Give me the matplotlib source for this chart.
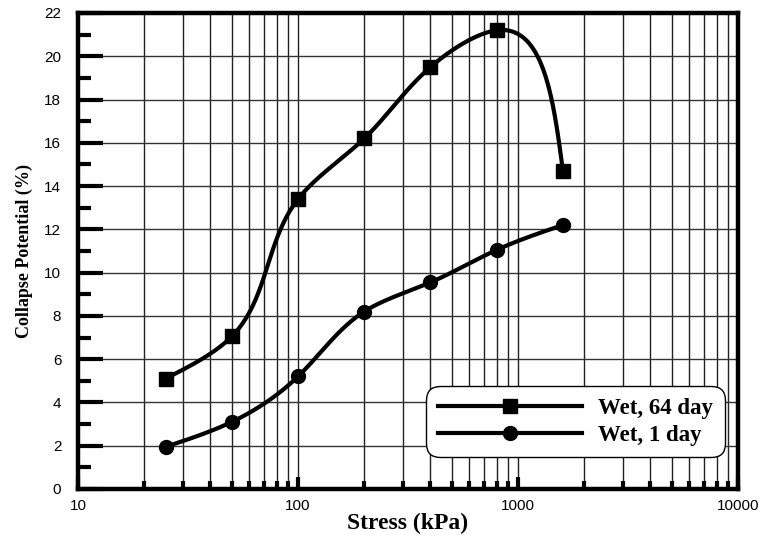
import numpy as np
import matplotlib
matplotlib.use('Agg')
import matplotlib.pyplot as plt
from matplotlib.ticker import FixedLocator, NullFormatter, FixedFormatter
from matplotlib.lines import Line2D

# ---- data ----
stress = [25, 50, 100, 200, 400, 800, 1600]
wet64 = [5.1, 7.05, 13.4, 16.2, 19.5, 21.2, 14.7]
wet1 = [1.95, 3.1, 5.2, 8.2, 9.55, 11.05, 12.2]
series_labels = ["Wet, 64 day", "Wet, 1 day"]
x_major = [10, 100, 1000, 10000]
x_major_labels = ["10", "100", "1000", "10000"]
y_major = [0, 2, 4, 6, 8, 10, 12, 14, 16, 18, 20, 22]


def natural_spline(t, v, tt):
    n = len(t) - 1
    h = np.diff(t)
    A = np.zeros((n + 1, n + 1))
    b = np.zeros(n + 1)
    A[0, 0] = 1
    A[n, n] = 1
    for i in range(1, n):
        A[i, i - 1] = h[i - 1]
        A[i, i] = 2 * (h[i - 1] + h[i])
        A[i, i + 1] = h[i]
        b[i] = 6 * ((v[i + 1] - v[i]) / h[i] - (v[i] - v[i - 1]) / h[i - 1])
    M = np.linalg.solve(A, b)
    out = np.empty_like(tt)
    for k, tv in enumerate(tt):
        i = min(max(np.searchsorted(t, tv) - 1, 0), n - 1)
        hi = h[i]
        a = t[i + 1] - tv
        c = tv - t[i]
        out[k] = (M[i] * a ** 3 / (6 * hi) + M[i + 1] * c ** 3 / (6 * hi)
                  + (v[i] / hi - M[i] * hi / 6) * a + (v[i + 1] / hi - M[i + 1] * hi / 6) * c)
    return out


def smooth_curve(xs, ys, power=1.2):
    X = np.log10(np.asarray(xs, float)) * 220.0
    Y = np.asarray(ys, float) * 21.64
    d = np.hypot(np.diff(X), np.diff(Y)) ** power
    t = np.concatenate([[0], np.cumsum(d)])
    tt = np.linspace(0, t[-1], 800)
    Xs = natural_spline(t, X, tt)
    Ys = natural_spline(t, Y, tt)
    return 10 ** (Xs / 220.0), Ys / 21.64


fig = plt.figure(figsize=(7.62, 5.35), dpi=100)
ax = fig.add_axes([78 / 762, 46 / 535, 660 / 762, 476 / 535])
ax.set_xscale('log')
ax.set_xlim(10, 10000)
ax.set_ylim(0, 22)

# grid
x_minor = [m * 10 ** e for e in (1, 2, 3) for m in range(2, 10)]
for xv in x_minor + [100, 1000]:
    ax.axvline(xv, color='#222222', lw=1.0, zorder=1)
for yv in y_major[1:-1]:
    ax.axhline(yv, color='#333333', lw=1.0, zorder=1)

lw = 3.0
for ys, mk in ((wet64, 's'), (wet1, 'o')):
    sx, sy = smooth_curve(stress, ys)
    ax.plot(sx, sy, color='black', lw=lw, zorder=3, solid_capstyle='butt')
    ax.plot(stress, ys, linestyle='none', marker=mk, color='black', markersize=10, zorder=4)

# spines
for s in ax.spines.values():
    s.set_linewidth(3.2)
    s.set_zorder(5)

# ticks
ax.xaxis.set_major_locator(FixedLocator(x_major))
ax.xaxis.set_major_formatter(FixedFormatter(x_major_labels))
ax.xaxis.set_minor_locator(FixedLocator(x_minor))
ax.xaxis.set_minor_formatter(NullFormatter())
ax.yaxis.set_major_locator(FixedLocator(y_major))
ax.yaxis.set_minor_locator(FixedLocator([v + 1 for v in y_major[:-1]]))
ax.tick_params(axis='x', which='major', direction='in', length=9, width=3, pad=7,
               labelsize=11, top=False)
ax.tick_params(axis='x', which='minor', direction='in', length=6, width=3, top=False)
ax.tick_params(axis='y', which='major', direction='in', length=18, width=3, pad=12,
               labelsize=11, right=False)
ax.tick_params(axis='y', which='minor', direction='in', length=9, width=3, right=False)
for lab in ax.get_xticklabels() + ax.get_yticklabels():
    lab.set_family('Liberation Sans')

ax.set_xlabel('Stress (kPa)', fontfamily='Liberation Serif', fontweight='bold', fontsize=17, labelpad=0)
ax.set_ylabel('Collapse Potential (%)', fontfamily='Liberation Serif', fontweight='bold', fontsize=13, labelpad=8)

handles = [Line2D([], [], color='black', lw=lw, marker='s', markersize=10),
           Line2D([], [], color='black', lw=lw, marker='o', markersize=10)]
leg = ax.legend(handles, series_labels, loc='lower right', bbox_to_anchor=(0.98, 0.067),
                prop={'family': 'Liberation Serif', 'weight': 'bold', 'size': 16.5},
                handlelength=6.3, numpoints=1, frameon=True, fancybox=True,
                borderpad=0.5, labelspacing=0.25, handletextpad=0.7, borderaxespad=0)
fr = leg.get_frame()
fr.set_edgecolor('black')
fr.set_linewidth(1.0)
fr.set_alpha(1)
fr.set_boxstyle('round', pad=0, rounding_size=0.6)
leg.set_zorder(6)

fig.savefig('out.png', dpi=100)
